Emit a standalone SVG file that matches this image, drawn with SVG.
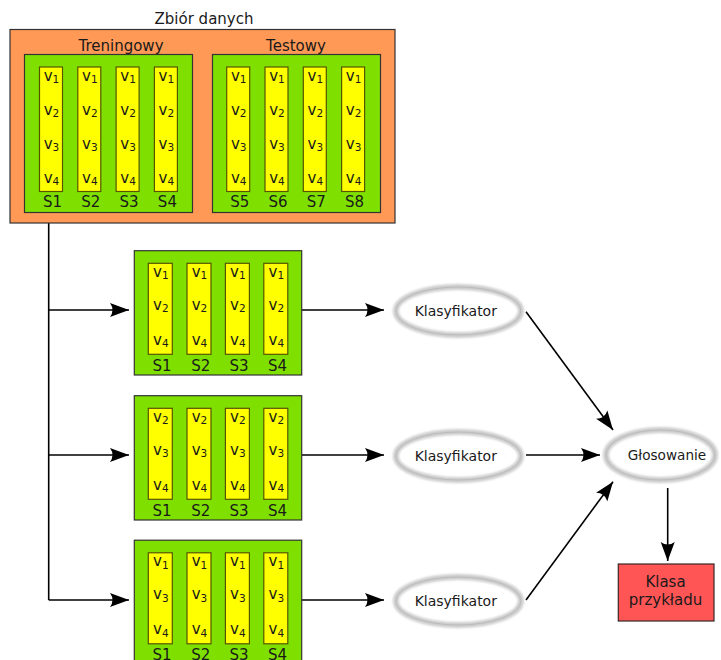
<svg xmlns="http://www.w3.org/2000/svg" xmlns:xlink="http://www.w3.org/1999/xlink" width="721" height="660" viewBox="0 0 721 660">
  <style>
    text { font-family: "DejaVu Sans", "Liberation Sans", sans-serif; fill: #1a1a1a; }
    .lbl { font-size: 15px; text-anchor: middle; }
    .v { font-size: 15px; text-anchor: middle; }
    .sub { font-size: 10.5px; }
    .orange { fill: #ff9955; stroke: #333333; stroke-width: 1.2; }
    .green { fill: #7fe000; stroke: #333333; stroke-width: 1.2; }
    .yellow { fill: #ffff00; stroke: #555500; stroke-width: 1.2; }
    .ring { fill: #ffffff; stroke: #cccccc; stroke-width: 6; }
    .ring-edge { fill: none; stroke: #a8a8a8; stroke-width: 0.8; stroke-opacity: 0.6; }
    .conn { fill: none; stroke: #000000; stroke-width: 1.6; }
    .red { fill: #ff5555; stroke: #3a2626; stroke-width: 1.2; }
  </style>
  <defs>
    <marker id="arrow" markerUnits="userSpaceOnUse" markerWidth="24" markerHeight="20" viewBox="-21 -10 22 20" refX="0" refY="0" orient="auto">
      <path d="M0,0 L-19,-7 Q-14,0 -19,7 Z" fill="#000000"/>
    </marker>
    <filter id="soft" x="-10%" y="-20%" width="120%" height="140%">
      <feGaussianBlur stdDeviation="0.8"/>
    </filter>
    <!-- full column: v1..v4 -->
    <g id="col4">
      <rect class="yellow" x="0" y="0" width="23" height="124.5"/>
      <text class="v" x="12" y="13.5">v<tspan class="sub" dy="2.5">1</tspan></text>
      <text class="v" x="12" y="47.5">v<tspan class="sub" dy="2.5">2</tspan></text>
      <text class="v" x="12" y="81.5">v<tspan class="sub" dy="2.5">3</tspan></text>
      <text class="v" x="12" y="115.5">v<tspan class="sub" dy="2.5">4</tspan></text>
    </g>
    <g id="colA">
      <rect class="yellow" x="0" y="0" width="24" height="91"/>
      <text class="v" x="12.5" y="13.4">v<tspan class="sub" dy="2.5">1</tspan></text>
      <text class="v" x="12.5" y="46.7">v<tspan class="sub" dy="2.5">2</tspan></text>
      <text class="v" x="12.5" y="81.7">v<tspan class="sub" dy="2.5">4</tspan></text>
    </g>
    <g id="colB">
      <rect class="yellow" x="0" y="0" width="24" height="91"/>
      <text class="v" x="12.5" y="13.4">v<tspan class="sub" dy="2.5">2</tspan></text>
      <text class="v" x="12.5" y="46.7">v<tspan class="sub" dy="2.5">3</tspan></text>
      <text class="v" x="12.5" y="81.7">v<tspan class="sub" dy="2.5">4</tspan></text>
    </g>
    <g id="colC">
      <rect class="yellow" x="0" y="0" width="24" height="91"/>
      <text class="v" x="12.5" y="13.4">v<tspan class="sub" dy="2.5">1</tspan></text>
      <text class="v" x="12.5" y="46.7">v<tspan class="sub" dy="2.5">3</tspan></text>
      <text class="v" x="12.5" y="81.7">v<tspan class="sub" dy="2.5">4</tspan></text>
    </g>
  </defs>

  <rect width="721" height="660" fill="#ffffff"/>

  <!-- connectors -->
  <g id="connectors">
    <path class="conn" d="M48.7,223 V600"/>
    <path class="conn" d="M48.7,310 H129" marker-end="url(#arrow)"/>
    <path class="conn" d="M48.7,455 H129" marker-end="url(#arrow)"/>
    <path class="conn" d="M48.7,600 H129" marker-end="url(#arrow)"/>
    <path class="conn" d="M302,310 H384" marker-end="url(#arrow)"/>
    <path class="conn" d="M302,455 H384" marker-end="url(#arrow)"/>
    <path class="conn" d="M302,600 H384" marker-end="url(#arrow)"/>
    <path class="conn" d="M526,311.7 L613,430" marker-end="url(#arrow)"/>
    <path class="conn" d="M526,455 H600" marker-end="url(#arrow)"/>
    <path class="conn" d="M526,600 L613,481.7" marker-end="url(#arrow)"/>
    <path class="conn" d="M667.7,488 V561" marker-end="url(#arrow)"/>
  </g>

  <!-- data set -->
  <g id="dataset">
    <text class="lbl" x="204" y="24">Zbiór danych</text>
    <rect class="orange" x="10" y="29.5" width="385" height="193.5"/>
    <g id="training">
      <text class="lbl" x="121" y="50.7">Treningowy</text>
      <rect class="green" x="24.5" y="54.5" width="168" height="158"/>
      <use xlink:href="#col4" x="39.5" y="67"/>
      <use xlink:href="#col4" x="77.8" y="67"/>
      <use xlink:href="#col4" x="116.1" y="67"/>
      <use xlink:href="#col4" x="154.4" y="67"/>
      <text class="lbl" x="52.5" y="206.7">S1</text>
      <text class="lbl" x="90.8" y="206.7">S2</text>
      <text class="lbl" x="129.1" y="206.7">S3</text>
      <text class="lbl" x="167.4" y="206.7">S4</text>
    </g>
    <g id="testing">
      <text class="lbl" x="296" y="50.7">Testowy</text>
      <rect class="green" x="212.5" y="54.5" width="168" height="158"/>
      <use xlink:href="#col4" x="226.7" y="67"/>
      <use xlink:href="#col4" x="265" y="67"/>
      <use xlink:href="#col4" x="303.3" y="67"/>
      <use xlink:href="#col4" x="341.6" y="67"/>
      <text class="lbl" x="239.7" y="206.7">S5</text>
      <text class="lbl" x="278" y="206.7">S6</text>
      <text class="lbl" x="316.3" y="206.7">S7</text>
      <text class="lbl" x="354.6" y="206.7">S8</text>
    </g>
  </g>

  <!-- feature subsets -->
  <g id="subset1">
    <rect class="green" x="134.3" y="250.7" width="167.4" height="124.3"/>
    <use xlink:href="#colA" x="148.3" y="263.3"/>
    <use xlink:href="#colA" x="187" y="263.3"/>
    <use xlink:href="#colA" x="225.4" y="263.3"/>
    <use xlink:href="#colA" x="263.8" y="263.3"/>
    <text class="lbl" x="162" y="370.7">S1</text>
    <text class="lbl" x="200.7" y="370.7">S2</text>
    <text class="lbl" x="239.1" y="370.7">S3</text>
    <text class="lbl" x="277.5" y="370.7">S4</text>
  </g>
  <g id="subset2">
    <rect class="green" x="134.3" y="395.7" width="167.4" height="124.3"/>
    <use xlink:href="#colB" x="148.3" y="408.3"/>
    <use xlink:href="#colB" x="187" y="408.3"/>
    <use xlink:href="#colB" x="225.4" y="408.3"/>
    <use xlink:href="#colB" x="263.8" y="408.3"/>
    <text class="lbl" x="162" y="515.7">S1</text>
    <text class="lbl" x="200.7" y="515.7">S2</text>
    <text class="lbl" x="239.1" y="515.7">S3</text>
    <text class="lbl" x="277.5" y="515.7">S4</text>
  </g>
  <g id="subset3">
    <rect class="green" x="134.3" y="540.2" width="167.4" height="124.3"/>
    <use xlink:href="#colC" x="148.3" y="552.8"/>
    <use xlink:href="#colC" x="187" y="552.8"/>
    <use xlink:href="#colC" x="225.4" y="552.8"/>
    <use xlink:href="#colC" x="263.8" y="552.8"/>
    <text class="lbl" x="162" y="660.2">S1</text>
    <text class="lbl" x="200.7" y="660.2">S2</text>
    <text class="lbl" x="239.1" y="660.2">S3</text>
    <text class="lbl" x="277.5" y="660.2">S4</text>
  </g>

  <!-- classifiers -->
  <g id="classifier1">
    <ellipse class="ring" cx="458.4" cy="311" rx="62.5" ry="24" filter="url(#soft)"/>
    <ellipse class="ring-edge" cx="458.4" cy="311" rx="62.5" ry="24"/>
    <text x="455.8" y="315.7" font-size="14" text-anchor="middle">Klasyfikator</text>
  </g>
  <g id="classifier2">
    <ellipse class="ring" cx="458.4" cy="456" rx="62.5" ry="24" filter="url(#soft)"/>
    <ellipse class="ring-edge" cx="458.4" cy="456" rx="62.5" ry="24"/>
    <text x="455.8" y="460.7" font-size="14" text-anchor="middle">Klasyfikator</text>
  </g>
  <g id="classifier3">
    <ellipse class="ring" cx="458.4" cy="601" rx="62.5" ry="24" filter="url(#soft)"/>
    <ellipse class="ring-edge" cx="458.4" cy="601" rx="62.5" ry="24"/>
    <text x="455.8" y="605.7" font-size="14" text-anchor="middle">Klasyfikator</text>
  </g>

  <!-- voting -->
  <g id="voting">
    <ellipse class="ring" cx="660.5" cy="455" rx="54.5" ry="25" filter="url(#soft)"/>
    <ellipse class="ring-edge" cx="660.5" cy="455" rx="54.5" ry="25"/>
    <text x="667" y="460" font-size="13.6" text-anchor="middle">Głosowanie</text>
  </g>

  <!-- result -->
  <g id="result">
    <rect class="red" x="618.3" y="564" width="95.7" height="57"/>
    <text class="lbl" x="665.5" y="586.7">Klasa</text>
    <text class="lbl" x="665.5" y="605">przykładu</text>
  </g>
</svg>
